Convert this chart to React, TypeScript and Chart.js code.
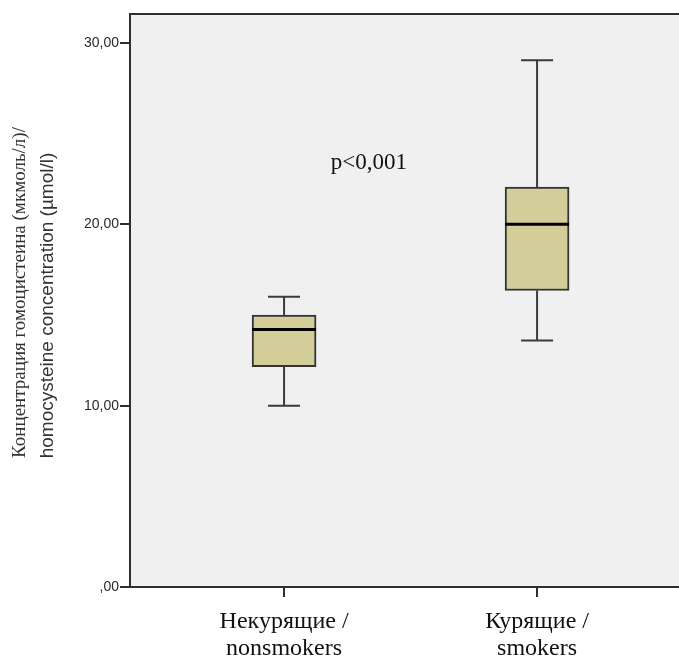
import React, { useEffect, useRef } from "react";
import { Chart, registerables } from "chart.js";

Chart.register(...registerables);

const categoryLabels: string[][] = [
  ["Некурящие /", "nonsmokers"],
  ["Курящие /", "smokers"],
];
const categoryPositions = [1, 2];
const whiskerMin = [10.0, 13.6];
const quartile1 = [12.15, 16.35];
const medians = [14.2, 20.0];
const quartile3 = [15.0, 22.05];
const whiskerMax = [16.0, 29.05];

const yTickValues = [0, 10, 20, 30];
const yTickLabels = [",00", "10,00", "20,00", "30,00"];
const yTitleLine1 = "Концентрация гомоцистеина (мкмоль/л)/";
const yTitleLine2 = "homocysteine concentration (µmol/l)";
const pValueText = "p<0,001";
const pValuePos = { x: 1.335, y: 23.4 };

const FRAME = "#2e2e2e";
const BOX_FILL = "#d3cd9a";

const decorPlugin = {
  id: "decor",
  beforeDraw(chart: any) {
    const { ctx, chartArea } = chart;
    ctx.save();
    ctx.fillStyle = "#f0f0f0";
    ctx.fillRect(chartArea.left, chartArea.top, chart.width - chartArea.left, chartArea.bottom - chartArea.top);
    ctx.restore();
  },
  afterDraw(chart: any) {
    const { ctx, chartArea, scales } = chart;
    const x = scales.x;
    const y = scales.y;
    ctx.save();
    ctx.strokeStyle = FRAME;
    ctx.lineWidth = 2;
    ctx.beginPath();
    ctx.moveTo(chart.width + 2, chartArea.top);
    ctx.lineTo(chartArea.left, chartArea.top);
    ctx.lineTo(chartArea.left, chartArea.bottom);
    ctx.lineTo(chart.width + 2, chartArea.bottom);
    ctx.stroke();

    ctx.fillStyle = "#111";
    ctx.font = "23px 'Liberation Serif', 'Times New Roman', serif";
    ctx.textAlign = "center";
    ctx.textBaseline = "middle";
    ctx.fillText(pValueText, x.getPixelForValue(pValuePos.x), y.getPixelForValue(pValuePos.y));

    const cy = (chartArea.top + chartArea.bottom) / 2;
    ctx.fillStyle = "#333";
    ctx.save();
    ctx.translate(20, cy - 8);
    ctx.rotate(-Math.PI / 2);
    ctx.font = "19px 'Liberation Serif', 'Times New Roman', serif";
    ctx.fillText(yTitleLine1, 0, 0);
    ctx.restore();
    ctx.save();
    ctx.translate(48, cy + 5);
    ctx.rotate(-Math.PI / 2);
    ctx.font = "19px 'Liberation Sans', Arial, sans-serif";
    ctx.fillText(yTitleLine2, 0, 0);
    ctx.restore();
    ctx.restore();
  },
};

const boxPlugin = {
  id: "boxDetails",
  afterDatasetsDraw(chart: any) {
    const { ctx, scales } = chart;
    const x = scales.x;
    const y = scales.y;
    const capHalf = 16;
    const boxHalf = 32;
    ctx.save();
    categoryPositions.forEach((pos, i) => {
      const cx = x.getPixelForValue(pos);
      ctx.strokeStyle = "#3a3a3a";
      ctx.lineWidth = 2;
      ctx.beginPath();
      ctx.moveTo(cx, y.getPixelForValue(quartile3[i]));
      ctx.lineTo(cx, y.getPixelForValue(whiskerMax[i]));
      ctx.moveTo(cx - capHalf, y.getPixelForValue(whiskerMax[i]));
      ctx.lineTo(cx + capHalf, y.getPixelForValue(whiskerMax[i]));
      ctx.moveTo(cx, y.getPixelForValue(quartile1[i]));
      ctx.lineTo(cx, y.getPixelForValue(whiskerMin[i]));
      ctx.moveTo(cx - capHalf, y.getPixelForValue(whiskerMin[i]));
      ctx.lineTo(cx + capHalf, y.getPixelForValue(whiskerMin[i]));
      ctx.stroke();
      ctx.strokeStyle = "#000";
      ctx.lineWidth = 3;
      ctx.beginPath();
      ctx.moveTo(cx - boxHalf, y.getPixelForValue(medians[i]));
      ctx.lineTo(cx + boxHalf, y.getPixelForValue(medians[i]));
      ctx.stroke();
    });
    ctx.restore();
  },
};

export default function App() {
  const canvasRef = useRef<HTMLCanvasElement | null>(null);

  useEffect(() => {
    if (!canvasRef.current) return;
    const chart = new Chart(canvasRef.current, {
      type: "bar",
      data: {
        datasets: [
          {
            data: categoryPositions.map((p, i) => ({ x: p, y: [quartile1[i], quartile3[i]] })) as any,
            backgroundColor: BOX_FILL,
            borderColor: "#333",
            borderWidth: 2,
            borderSkipped: false,
            barThickness: 64,
          },
        ],
      },
      options: {
        responsive: false,
        animation: false,
        devicePixelRatio: 1,
        layout: { padding: { top: 14, left: 0, right: 0, bottom: 0 } },
        plugins: { legend: { display: false }, tooltip: { enabled: false } },
        scales: {
          x: {
            type: "linear",
            min: 0.391,
            max: 2.561,
            offset: false,
            border: { display: false },
            grid: { offset: false, drawOnChartArea: false, drawTicks: true, tickLength: 10, color: FRAME, lineWidth: 2 },
            afterBuildTicks: (scale: any) => {
              scale.ticks = categoryPositions.map((v) => ({ value: v }));
            },
            afterFit: (scale: any) => {
              scale.height = 71;
            },
            ticks: {
              autoSkip: false,
              maxRotation: 0,
              padding: 11,
              color: "#111",
              font: { family: "'Liberation Serif', 'Times New Roman', serif", size: 24, lineHeight: 1.125 },
              callback: (value: any) => {
                const idx = categoryPositions.indexOf(Number(value));
                return idx >= 0 ? categoryLabels[idx] : "";
              },
            },
          },
          y: {
            type: "linear",
            min: 0,
            max: 31.6,
            border: { display: false },
            grid: { drawOnChartArea: false, drawTicks: true, tickLength: 10, color: FRAME, lineWidth: 2 },
            afterBuildTicks: (scale: any) => {
              scale.ticks = yTickValues.map((v) => ({ value: v }));
            },
            afterFit: (scale: any) => {
              scale.width = 130;
            },
            ticks: {
              padding: 1,
              color: "#2a2a2a",
              font: { family: "'Liberation Sans', Arial, sans-serif", size: 14 },
              callback: (value: any) => {
                const idx = yTickValues.indexOf(Number(value));
                return idx >= 0 ? yTickLabels[idx] : "";
              },
            },
          },
        },
      },
      plugins: [decorPlugin, boxPlugin],
    });
    return () => chart.destroy();
  }, []);

  return (
    <div style={{ position: "absolute", left: 0, top: 0, width: 679, height: 658, background: "#fff" }}>
      <canvas ref={canvasRef} width={679} height={658} style={{ display: "block" }} />
    </div>
  );
}
